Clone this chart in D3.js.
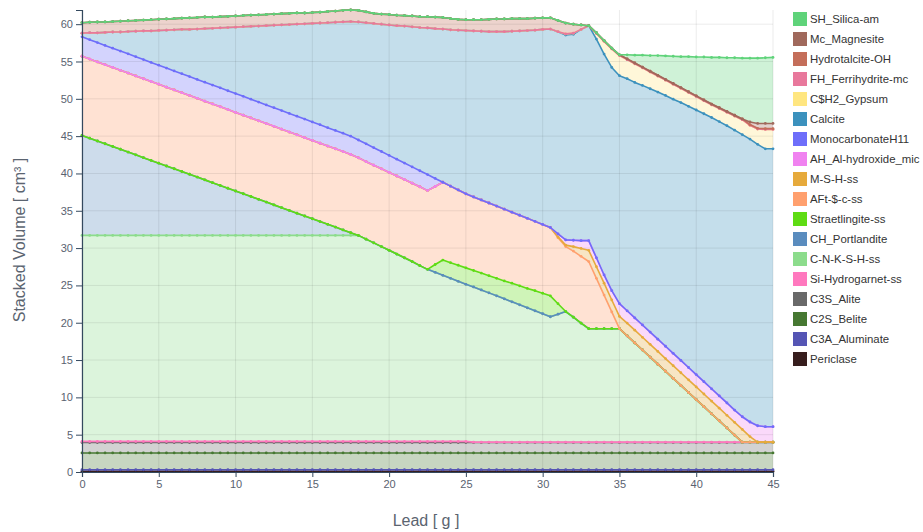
<!DOCTYPE html>
<html><head><meta charset="utf-8">
<script src="https://cdn.jsdelivr.net/npm/d3@7"></script>
<style>
body{margin:0;background:#fff;}
text{font-family:"Liberation Sans",Arial,sans-serif;}
</style>
</head><body>
<svg id="chart" width="923" height="532"></svg>
<script>
// ---------------- DATA ----------------
const lead = [0,0.5,1,1.5,2,2.5,3,3.5,4,4.5,5,5.5,6,6.5,7,7.5,8,8.5,9,9.5,10,10.5,11,11.5,12,12.5,13,13.5,14,14.5,15,15.5,16,16.5,17,17.5,18,18.5,19,19.5,20,20.5,21,21.5,22,22.5,23,23.5,24,24.5,25,25.5,26,26.5,27,27.5,28,28.5,29,29.5,30,30.5,31,31.5,32,32.5,33,33.5,34,34.5,35,35.5,36,36.5,37,37.5,38,38.5,39,39.5,40,40.5,41,41.5,42,42.5,43,43.5,44,44.5,45];

const periclase = [0.1,0.1,0.1,0.1,0.1,0.1,0.1,0.1,0.1,0.1,0.1,0.1,0.1,0.1,0.1,0.1,0.1,0.1,0.1,0.1,0.1,0.1,0.1,0.1,0.1,0.1,0.1,0.1,0.1,0.1,0.1,0.1,0.1,0.1,0.1,0.1,0.1,0.1,0.1,0.1,0.1,0.1,0.1,0.1,0.1,0.1,0.1,0.1,0.1,0.1,0.1,0.1,0.1,0.1,0.1,0.1,0.1,0.1,0.1,0.1,0.1,0.1,0.1,0.1,0.1,0.1,0.1,0.1,0.1,0.1,0.1,0.1,0.1,0.1,0.1,0.1,0.1,0.1,0.1,0.1,0.1,0.1,0.1,0.1,0.1,0.1,0.1,0.1,0.1,0.1,0.1];
const c3aAluminate = [0.2,0.2,0.2,0.2,0.2,0.2,0.2,0.2,0.2,0.2,0.2,0.2,0.2,0.2,0.2,0.2,0.2,0.2,0.2,0.2,0.2,0.2,0.2,0.2,0.2,0.2,0.2,0.2,0.2,0.2,0.2,0.2,0.2,0.2,0.2,0.2,0.2,0.2,0.2,0.2,0.2,0.2,0.2,0.2,0.2,0.2,0.2,0.2,0.2,0.2,0.2,0.2,0.2,0.2,0.2,0.2,0.2,0.2,0.2,0.2,0.2,0.2,0.2,0.2,0.2,0.2,0.2,0.2,0.2,0.2,0.2,0.2,0.2,0.2,0.2,0.2,0.2,0.2,0.2,0.2,0.2,0.2,0.2,0.2,0.2,0.2,0.2,0.2,0.2,0.2,0.2];
const c2sBelite = [2.25,2.25,2.25,2.25,2.25,2.25,2.25,2.25,2.25,2.25,2.25,2.25,2.25,2.25,2.25,2.25,2.25,2.25,2.25,2.25,2.25,2.25,2.25,2.25,2.25,2.25,2.25,2.25,2.25,2.25,2.25,2.25,2.25,2.25,2.25,2.25,2.25,2.25,2.25,2.25,2.25,2.25,2.25,2.25,2.25,2.25,2.25,2.25,2.25,2.25,2.25,2.25,2.25,2.25,2.25,2.25,2.25,2.25,2.25,2.25,2.25,2.25,2.25,2.25,2.25,2.25,2.25,2.25,2.25,2.25,2.25,2.25,2.25,2.25,2.25,2.25,2.25,2.25,2.25,2.25,2.25,2.25,2.25,2.25,2.25,2.25,2.25,2.25,2.25,2.25,2.25];
const c3sAlite = [1.4,1.4,1.4,1.4,1.4,1.4,1.4,1.4,1.4,1.4,1.4,1.4,1.4,1.4,1.4,1.4,1.4,1.4,1.4,1.4,1.4,1.4,1.4,1.4,1.4,1.4,1.4,1.4,1.4,1.4,1.4,1.4,1.4,1.4,1.4,1.4,1.4,1.4,1.4,1.4,1.4,1.4,1.4,1.4,1.4,1.4,1.4,1.4,1.4,1.4,1.4,1.4,1.4,1.4,1.4,1.4,1.4,1.4,1.4,1.4,1.4,1.4,1.4,1.4,1.4,1.4,1.4,1.4,1.4,1.4,1.4,1.4,1.4,1.4,1.4,1.4,1.4,1.4,1.4,1.4,1.4,1.4,1.4,1.4,1.4,1.4,1.4,1.4,1.4,1.4,1.4];
const siHydrogarnet = [0.15,0.15,0.15,0.15,0.15,0.15,0.15,0.15,0.15,0.15,0.15,0.15,0.15,0.15,0.15,0.15,0.15,0.15,0.15,0.15,0.15,0.15,0.15,0.15,0.15,0.15,0.15,0.15,0.15,0.15,0.15,0.15,0.15,0.15,0.15,0.15,0.15,0.15,0.15,0.15,0.15,0.15,0.15,0.15,0.15,0.15,0.15,0.15,0.15,0.15,0.15,0.05,0.05,0.05,0.05,0.05,0.05,0.05,0.05,0.05,0.05,0.05,0.05,0.05,0.05,0.05,0.05,0.05,0.05,0.05,0.05,0.05,0.05,0.05,0.05,0.05,0.05,0.05,0.05,0.05,0.05,0.05,0.05,0.05,0.05,0.05,0.05,0.05,0.05,0.05,0.05];
const cnkshSs = [27.6,27.6,27.6,27.6,27.6,27.6,27.6,27.6,27.6,27.6,27.6,27.6,27.6,27.6,27.6,27.6,27.6,27.6,27.6,27.6,27.6,27.6,27.6,27.6,27.6,27.6,27.6,27.6,27.6,27.6,27.6,27.6,27.6,27.6,27.6,27.6,27.6,
  27.1,26.6,26.1,25.6,25.1,24.6,24.1,23.55,23.05,22.65,22.25,21.85,21.45,21.05,
  20.8,20.4,20.0,19.6,19.2,18.8,18.4,18.0,17.6,17.2,16.8,17.15,17.5,16.75,15.95,15.2,15.2,15.2,15.2,15.2,
  14.25,13.3,12.35,11.4,10.45,9.5,8.55,7.6,6.65,5.7,4.75,3.8,2.85,1.9,0.95,0,0,0,0,0];
const chPortlandite = [13.4,13.03,12.65,12.28,11.91,11.54,11.17,10.79,10.42,10.05,9.68,9.3,8.93,8.56,8.19,7.81,7.44,7.07,6.7,6.32,5.95,5.58,5.21,4.83,4.46,4.09,3.72,3.34,2.97,2.6,2.23,1.85,1.48,1.11,0.74,0.36,
  0,0,0,0,0,0,0,0,0,0,0,0,0,0,0,0,0,0,0,0,0,0,0,0,0,0,0,0,0,0,0,0,0,0,0,0,0,0,0,0,0,0,0,0,0,0,0,0,0,0,0,0,0,0,0];
const straetlingite = [0,0,0,0,0,0,0,0,0,0,0,0,0,0,0,0,0,0,0,0,0,0,0,0,0,0,0,0,0,0,0,0,0,0,0,0,0,0,0,0,0,0,0,0,0,0,
  1.05,2.05,2.1,2.15,2.2,2.2,2.25,2.3,2.35,2.4,2.5,2.55,2.6,2.7,2.75,2.8,1.4,
  0,0,0,0,0,0,0,0,0,0,0,0,0,0,0,0,0,0,0,0,0,0,0,0,0,0,0,0];
const aftSs = [10.6,10.6,10.59,10.59,10.59,10.58,10.58,10.58,10.57,10.57,10.57,
  10.56,10.56,10.56,10.55,10.55,10.55,10.54,10.54,10.54,10.53,
  10.53,10.53,10.52,10.52,10.52,10.51,10.51,10.51,10.5,10.5,10.5,10.49,10.49,10.49,10.48,
  10.4,10.38,10.4,10.42,10.44,10.46,10.48,10.5,10.57,10.55,
  10.46,10.42,10.25,10.09,9.92,
  9.86,9.8,9.74,9.68,9.62,9.51,9.45,9.39,9.28,9.22,9.16,
  8.85,8.7,8.85,8.95,9.0,
  6.75,4.5,2.25,0,
  0,0,0,0,0,0,0,0,0,0,0,0,0,0,0,0,0,0,0,0];
const mshSs = [0,0,0,0,0,0,0,0,0,0,0,0,0,0,0,0,0,0,0,0,0,0,0,0,0,0,0,0,0,0,0,0,0,0,0,0,0,0,0,0,0,0,0,0,0,0,0,0,0,0,0,0,0,0,0,0,0,0,0,0,0,0,
  0.1,0.2,0.6,1.05,1.5,1.55,1.6,1.6,1.65,
  1.7,1.7,1.7,1.7,1.7,1.7,1.7,1.7,1.7,1.7,1.7,1.7,1.7,1.7,1.7,1.7,
  0.75,0,0,0];
const ahAlHydroxide = [0,0,0,0,0,0,0,0,0,0,0,0,0,0,0,0,0,0,0,0,0,0,0,0,0,0,0,0,0,0,0,0,0,0,0,0,0,0,0,0,0,0,0,0,0,0,0,0,0,0,0,0,0,0,0,0,0,0,0,0,0,0,
  0.4,0.7,0.85,1.05,1.3,1.2,1.1,1.25,1.7,
  1.65,1.65,1.65,1.65,1.65,1.65,1.65,1.65,1.65,1.65,1.65,1.65,1.65,1.65,1.65,
  1.7,1.95,2.2,2.07,2.07];
const monocarbonate = [2.6,2.6,2.59,2.59,2.58,2.58,2.58,2.57,2.57,2.56,2.56,
  2.56,2.55,2.55,2.54,2.54,2.54,2.53,2.53,2.52,2.52,
  2.52,2.51,2.51,2.5,2.5,2.5,2.49,2.49,2.48,2.48,2.48,2.47,2.47,2.46,2.46,
  2.38,2.39,2.35,2.32,2.28,2.25,2.21,2.18,2.14,2.15,1.07,
  0,0,0,0,0,0,0,0,0,0,0,0,0,0,0,0,0,0,0,0,0,0,0,0,0,0,0,0,0,0,0,0,0,0,0,0,0,0,0,0,0,0,0,0];
const calcite = [0.5,0.93,1.31,1.74,2.17,2.55,2.98,3.41,3.84,4.22,4.65,
  5.08,5.51,5.94,6.32,6.75,7.18,7.61,8.04,8.47,8.9,
  9.33,9.76,10.19,10.62,11.05,11.48,11.91,12.34,12.77,13.2,
  13.63,14.06,14.49,14.92,15.35,15.82,16.23,16.65,17.06,17.48,
  17.89,18.36,18.77,19.19,19.65,20.07,20.53,20.95,21.41,21.88,
  22.24,22.6,22.96,23.37,23.78,24.24,24.7,25.16,25.62,26.13,
  26.59,27.1,27.45,27.6,28.3,28.8,29.3,29.6,29.9,30.55,
  31.1,31.55,32.1,32.6,33.1,33.6,34.05,34.55,35.0,35.45,
  35.9,36.35,36.75,37.15,37.5,37.8,37.9,37.7,37.23,37.23];
const gypsum = [0,0,0,0,0,0,0,0,0,0,0,0,0,0,0,0,0,0,0,0,0,0,0,0,0,0,0,0,0,0,0,0,0,0,0,0,0,0,0,0,0,0,0,0,0,0,0,0,0,0,0,0,0,0,0,0,0,0,0,0,0,0,0,
  0.15,0.15,0,0,
  0.75,1.7,2.5,2.7,
  2.55,2.5,2.35,2.25,2.15,2.05,2.0,1.9,1.85,1.8,
  1.75,1.7,1.75,1.8,1.9,2.0,1.85,2.05,2.6,2.6];
const ferrihydrite = [0,0,0,0,0,0,0,0,0,0,0,0,0,0,0,0,0,0,0,0,0,0,0,0,0,0,0,0,0,0,0,0,0,0,0,0,0,0,0,0,0,0,0,0,0,0,0,0,0,0,0,0,0,0,0,0,0,0,0,0,0,0,0,0,0,0,0,0,0,0,0,0,0,0,0,0,0,0,0,0,0,0,0,0,0,0,0,0,0,0,0];
const hydrotalcite = [1.4,1.4,1.45,1.4,1.4,1.45,1.45,1.45,1.45,1.5,1.5,
  1.5,1.5,1.5,1.55,1.55,1.55,1.5,1.5,1.5,1.5,
  1.5,1.5,1.5,1.5,1.5,1.5,1.5,1.5,1.45,1.45,
  1.45,1.5,1.5,1.55,1.55,1.55,1.45,1.35,1.35,1.4,
  1.4,1.4,1.45,1.45,1.5,1.55,1.55,1.5,1.45,1.45,
  1.5,1.55,1.65,1.7,1.7,1.7,1.65,1.6,1.6,1.55,
  1.5,1.5,1.45,1.2,0.6,0,0.1,0.1,0.1,0.1,
  0.1,0.1,0.1,0.1,0.1,0.1,0.1,0.1,0.1,0.1,
  0.1,0.1,0.1,0.1,0.1,0.1,0.1,0.1,0.1,0.1];
const magnesite = [0,0,0,0,0,0,0,0,0,0,0,0,0,0,0,0,0,0,0,0,0,0,0,0,0,0,0,0,0,0,0,0,0,0,0,0,0,0,0,0,0,0,0,0,0,0,0,0,0,0,0,0,0,0,0,0,0,0,0,0,0,0,0,0,0,0,0,0,0,0,0,0,0,0,0,0,0,0,0,0,0,0,0,0,0,0,0,
  0.35,0.65,0.7,0.7];
const silicaAm = [0,0,0,0,0,0,0,0,0,0,0,0,0,0,0,0,0,0,0,0,0,0,0,0,0,0,0,0,0,0,0,0,0,0,0,0,0,0,0,0,0,0,0,0,0,0,0,0,0,0,0,0,0,0,0,0,0,0,0,0,0,0,0,0,0,0,0,0,0,0,0,
  0.55,1.05,1.6,2.1,2.65,3.15,3.65,4.15,4.7,5.2,
  5.75,6.25,6.75,7.2,7.7,8.15,8.55,8.75,8.8,8.85];

// stacking order: bottom -> top
const seriesNames = ["Periclase","C3A_Aluminate","C2S_Belite","C3S_Alite","Si-Hydrogarnet-ss","C-N-K-S-H-ss","CH_Portlandite","Straetlingite-ss","AFt-$-c-ss","M-S-H-ss","AH_Al-hydroxide_mic","MonocarbonateH11","Calcite","C$H2_Gypsum","FH_Ferrihydrite-mc","Hydrotalcite-OH","Mc_Magnesite","SH_Silica-am"];
const seriesValues = [periclase,c3aAluminate,c2sBelite,c3sAlite,siHydrogarnet,cnkshSs,chPortlandite,straetlingite,aftSs,mshSs,ahAlHydroxide,monocarbonate,calcite,gypsum,ferrihydrite,hydrotalcite,magnesite,silicaAm];
const seriesColors = ["#371e1e","#5555b4","#467832","#696969","#ff78be","#8cdc8c","#5a8cbe","#5fdc14","#ffa06e","#e6aa3c","#f082f0","#6e6efa","#3c91bd","#ffe680","#e8789c","#c46e5a","#a0695c","#5fd37a"];
const xTicks = [0,5,10,15,20,25,30,35,40,45];
const yTicks = [0,5,10,15,20,25,30,35,40,45,50,55,60];
const xTitle = "Lead [ g ]";
const yTitle = "Stacked Volume [ cm³ ]";

// ---------------- CHART ----------------
const svg = d3.select("#chart");
const rows = lead.map((x,i) => {
  const r = {x};
  seriesNames.forEach((n,k) => r[n] = seriesValues[k][i]);
  return r;
});
const stacked = d3.stack().keys(seriesNames)(rows);
const yMax = d3.max(stacked[stacked.length-1], d => d[1]);

const x = d3.scaleLinear().domain([0,45]).range([82,773]);
const y = d3.scaleLinear().domain([0,yMax]).range([472,10]);

const area = d3.area().x(d => x(d.data.x)).y0(d => y(d[0])).y1(d => y(d[1]));
const line = d3.line().x(d => x(d.data.x)).y(d => y(d[1]));

const gFill = svg.append("g");
stacked.forEach((s,k) => {
  gFill.append("path").attr("d", area(s)).attr("fill", seriesColors[k]).attr("fill-opacity", 0.3).attr("stroke","none");
});

// grid
const gGrid = svg.append("g");
xTicks.forEach(t => gGrid.append("line").attr("x1",x(t)).attr("x2",x(t)).attr("y1",y(yMax)).attr("y2",y(0)).attr("stroke","#000").attr("stroke-opacity",0.08));
yTicks.forEach(t => gGrid.append("line").attr("x1",x(0)).attr("x2",x(45)).attr("y1",y(t)).attr("y2",y(t)).attr("stroke","#000").attr("stroke-opacity",0.08));

const gLines = svg.append("g");
stacked.forEach((s,k) => {
  gLines.append("path").attr("d", line(s)).attr("fill","none").attr("stroke", seriesColors[k]).attr("stroke-width",1.6).attr("stroke-linejoin","round");
  gLines.append("g").selectAll("circle").data(s).join("circle")
    .attr("cx", d => x(d.data.x)).attr("cy", d => y(d[1])).attr("r",1.4).attr("fill", seriesColors[k]);
});

// axes
const axisColor = "#34495e";
const yAxis = svg.append("g").attr("transform","translate(82,0)")
  .call(d3.axisLeft(y).tickValues(yTicks).tickSize(6).tickPadding(3));
const xAxis = svg.append("g").attr("transform","translate(0,472)")
  .call(d3.axisBottom(x).tickValues(xTicks).tickSize(5).tickPadding(3));
[yAxis,xAxis].forEach(a => {
  a.select(".domain").attr("stroke",axisColor).attr("stroke-width",1.2);
  a.selectAll(".tick line").attr("stroke",axisColor);
  a.selectAll(".tick text").attr("fill","#5a6270").attr("font-size",11).attr("font-family","Liberation Sans, Arial, sans-serif");
});

svg.append("text").attr("x",426).attr("y",526).attr("text-anchor","middle").attr("font-size",16).attr("fill","#5b6470").text(xTitle);
svg.append("text").attr("transform","translate(25,240) rotate(-90)").attr("text-anchor","middle").attr("font-size",16).attr("fill","#5b6470").text(yTitle);

// legend (top of stack first)
const leg = svg.append("g");
seriesNames.slice().reverse().forEach((n,i) => {
  const k = seriesNames.length-1-i;
  const cy = 19 + i*20;
  leg.append("rect").attr("x",793).attr("y",cy-7).attr("width",14).attr("height",14).attr("fill",seriesColors[k]);
  leg.append("text").attr("x",810).attr("y",cy+4).attr("font-size",11.4).attr("fill","#333").text(n);
});
</script>
</body></html>
